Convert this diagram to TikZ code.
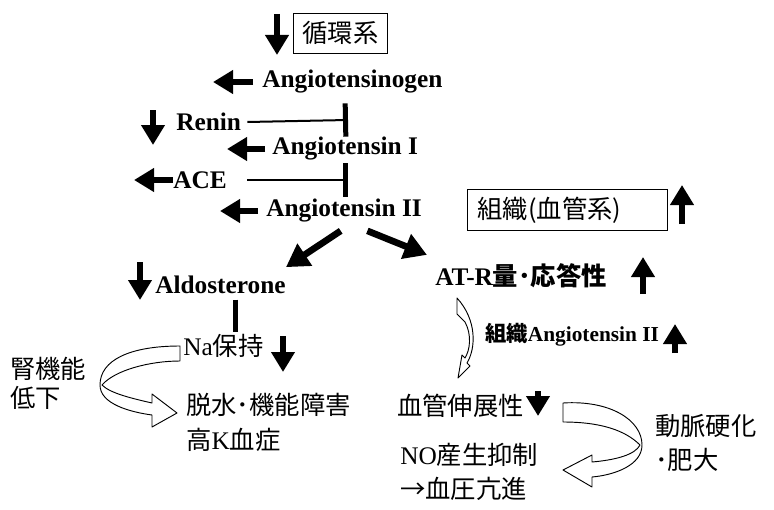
\documentclass[tikz,border=0pt]{standalone}
\usepackage{fontspec}
\setmainfont{Liberation Serif}
\newfontfamily\jpf{Noto Sans CJK JP}
\usetikzlibrary{arrows.meta}
\tikzset{
  lat/.style={font=\fontsize{19}{22}\selectfont\bfseries, inner sep=0pt, anchor=west},
  jtxt/.style={font=\fontsize{19}{26}\selectfont\jpf, inner sep=0pt, anchor=west, align=left},
  jbox/.style={draw, line width=0.6pt, font=\fontsize{19}{22}\selectfont\jpf, inner ysep=0pt},
  blk/.style={line width=4.5pt, -{Triangle[width=17pt,length=15pt]}},
  dia/.style={line width=5pt, -{Triangle[width=19pt,length=17pt]}},
  inh/.style={line width=1.5pt, -{Bar[width=25pt,line width=3.75pt]}},
  barline/.style={line width=3.75pt},
  hollow/.style={draw, fill=white, line width=0.7pt, line join=round}
}
\begin{document}
\begin{tikzpicture}[x=0.75pt, y=-0.75pt]
  \useasboundingbox (0,0) rectangle (774,510);
  % boxes
  \node[jbox, inner xsep=0pt, minimum width=71pt, minimum height=30pt] (circ) at (340.5,33) {循環系};
  \node[jbox, inner xsep=7.5pt, text width=135pt, align=left, minimum height=31pt] (tiss) at (567.5,210) {組織(血管系)};
  % cascade
  \node[lat] (agen) at (262,82) {Angiotensinogen};
  \node[lat] (renin) at (176,122) {Renin};
  \node[lat] (a1) at (272,149) {Angiotensin I};
  \node[lat] (ace) at (173,180) {ACE};
  \node[lat] (a2) at (266,211) {Angiotensin II};
  \node[lat] (aldo) at (155,285) {Aldosterone};
  \node[lat] (atr) at (435,276) {AT-R{\jpf 量･応答性}};
  \node[lat, font=\fontsize{16}{20}\selectfont\bfseries] (tang) at (485,335) {{\jpf 組織}Angiotensin II};
  % lower texts
  \node[jtxt] (na) at (183,346) {{\rmfamily Na}保持};
  \node[jtxt, font=\fontsize{19}{22}\selectfont\jpf] (jin) at (10,383.5) {腎機能\\低下};
  \node[jtxt] (dass) at (186,422.5) {脱水･機能障害\\高{\rmfamily K}血症};
  \node[jtxt] (kekk) at (397,406) {血管伸展性};
  \node[jtxt, font=\fontsize{19}{25.5}\selectfont\jpf] (doum) at (655,443) {動脈硬化\\･肥大};
  \node[jtxt] (nopr) at (400,472) {{\rmfamily NO}産生抑制\\→血圧亢進};
  % inhibition
  \coordinate (bar1) at (348,120);
  \coordinate (bar2) at (348,180);
  \draw[inh] ([xshift=4.5pt]renin.east) -- (bar1);
  \draw[inh] ([xshift=15pt]ace.east) -- (bar2);
  \draw[barline] ([xshift=11pt,yshift=-4pt]aldo.south) -- ++(0,32);
  % branches
  \draw[dia] ([xshift=-2.5pt,yshift=-6pt]a2.south) -- ([yshift=6.5pt]aldo.north east);
  \draw[dia] ([xshift=17.5pt,yshift=-6pt]a2.south) -- ([xshift=-6pt,yshift=6.5pt]atr.north west);
  % up / down markers
  \draw[blk] (277,14) -- (277,55);
  \draw[blk] (253,82) -- (213,82);
  \draw[blk] (153,110) -- (153,145);
  \draw[blk] (265,149) -- (227,149);
  \draw[blk] (173,180) -- (134,180);
  \draw[blk] (258,211) -- (220,211);
  \draw[blk] (140,262) -- (140,300);
  \draw[blk] (283,336) -- (283,372);
  \draw[blk] (682,224) -- (682,185);
  \draw[blk] (643,294) -- (643,257);
  \draw[blk] (675,353) -- (675,324);
  \draw[blk] (538,391) -- (538,416);
  % hollow arrows
  \draw[hollow] (180,346) .. controls (130,346) and (100,360) .. (100,385)
    .. controls (100,404) and (130,412) .. (152,415) -- (152,427) -- (177,413)
    -- (152,394) -- (152,403) .. controls (130,398) and (110,393) .. (102,385)
    .. controls (115,370) and (150,361) .. (180,361) -- cycle;
  \draw[hollow] (457,298) -- (457,314) -- (465,322)
    .. controls (472,335) and (470,350) .. (465,358) -- (462,355) -- (458,378)
    -- (470,366) -- (467,363) .. controls (476,348) and (477,320) .. (457,298) -- cycle;
  \draw[hollow] (563,403) .. controls (610,400) and (642,420) .. (642,445)
    .. controls (642,465) and (615,475) .. (592,477) -- (592,487) -- (563,470)
    -- (592,455) -- (592,462) .. controls (615,460) and (635,455) .. (640,445)
    .. controls (625,430) and (600,422) .. (563,422) -- cycle;
\end{tikzpicture}
\end{document}
